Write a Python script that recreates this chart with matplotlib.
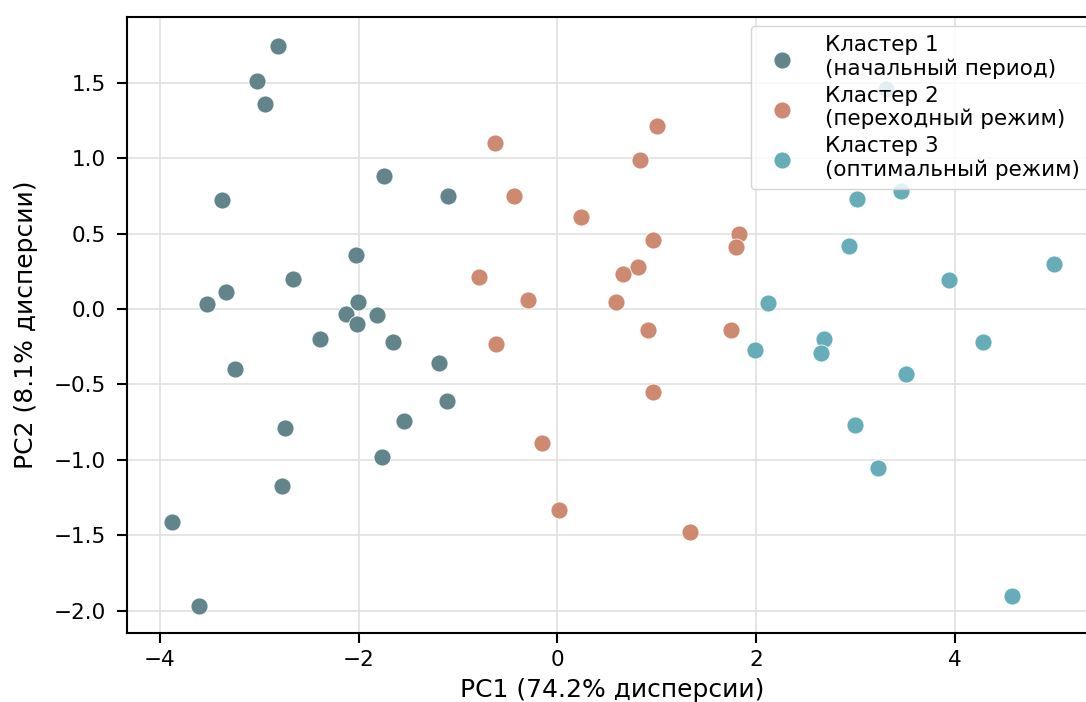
import matplotlib
matplotlib.use('Agg')
import matplotlib.pyplot as plt

# Кластер 1 (начальный период)
c1_x = [-2.81, -3.02, -2.94, -1.74, -3.37, -1.10, -2.03, -2.66, -3.33, -3.53,
        -2.01, -2.13, -1.81, -2.02, -2.39, -1.65, -1.19, -3.24, -1.11, -1.54,
        -2.74, -1.76, -2.77, -3.88, -3.61]
c1_y = [1.74, 1.51, 1.36, 0.88, 0.72, 0.75, 0.36, 0.20, 0.11, 0.035,
        0.046, -0.035, -0.04, -0.10, -0.20, -0.22, -0.36, -0.40, -0.61, -0.74,
        -0.79, -0.98, -1.17, -1.41, -1.97]

# Кластер 2 (переходный режим)
c2_x = [1.00, -0.63, 0.83, -0.44, 0.24, 1.83, 0.96, 1.80, 0.81, 0.66,
        -0.79, -0.30, 0.59, 0.91, 1.75, -0.62, 0.96, -0.15, 0.02, 1.33]
c2_y = [1.21, 1.10, 0.99, 0.75, 0.61, 0.50, 0.46, 0.41, 0.28, 0.23,
        0.21, 0.057, 0.046, -0.14, -0.14, -0.23, -0.55, -0.89, -1.33, -1.48]

# Кластер 3 (оптимальный режим)
c3_x = [3.31, 3.46, 3.02, 2.93, 5.00, 3.94, 2.12, 2.68, 1.99, 2.65,
        4.28, 3.51, 3.00, 3.23, 4.57]
c3_y = [1.46, 0.78, 0.73, 0.42, 0.30, 0.19, 0.04, -0.20, -0.27, -0.29,
        -0.22, -0.43, -0.77, -1.05, -1.90]

labels = ['Кластер 1\n(начальный период)',
          'Кластер 2\n(переходный режим)',
          'Кластер 3\n(оптимальный режим)']
colors = ['#587f84', '#cc8468', '#5fa9b5']

fig = plt.figure(figsize=(10.86, 7.02), dpi=100)
ax = fig.add_axes([127 / 1086, 1 - 633 / 702, (1098 - 127) / 1086, (633 - 17) / 702])

for xs, ys, lab, col in zip([c1_x, c2_x, c3_x], [c1_y, c2_y, c3_y], labels, colors):
    ax.scatter(xs, ys, s=150, color=col, edgecolor='white', linewidth=0.6,
               alpha=0.95, label=lab, zorder=3)

ax.set_xlim(-4.33, 5.44)
ax.set_ylim(-2.146, 1.934)
ax.set_xticks([-4, -2, 0, 2, 4])
ax.set_yticks([-2.0, -1.5, -1.0, -0.5, 0.0, 0.5, 1.0, 1.5])
ax.grid(True, color='#e0e0e0', linewidth=1.2, zorder=0)
ax.set_axisbelow(True)

for sp in ax.spines.values():
    sp.set_linewidth(1.5)
ax.tick_params(labelsize=15.5, width=1.5, length=7)
ax.tick_params(axis='x', pad=5)
ax.tick_params(axis='y', pad=8.5)

ax.set_xlabel('PC1 (74.2% дисперсии)', fontsize=18, labelpad=6)
ax.set_ylabel('PC2 (8.1% дисперсии)', fontsize=18, labelpad=11)

ax.legend(loc='upper right', fontsize=15.5, frameon=True, framealpha=0.82,
          edgecolor='#cccccc', borderaxespad=0.4, handletextpad=1.0,
          labelspacing=0.3, borderpad=0.45)

fig.savefig('out.png', dpi=100)
